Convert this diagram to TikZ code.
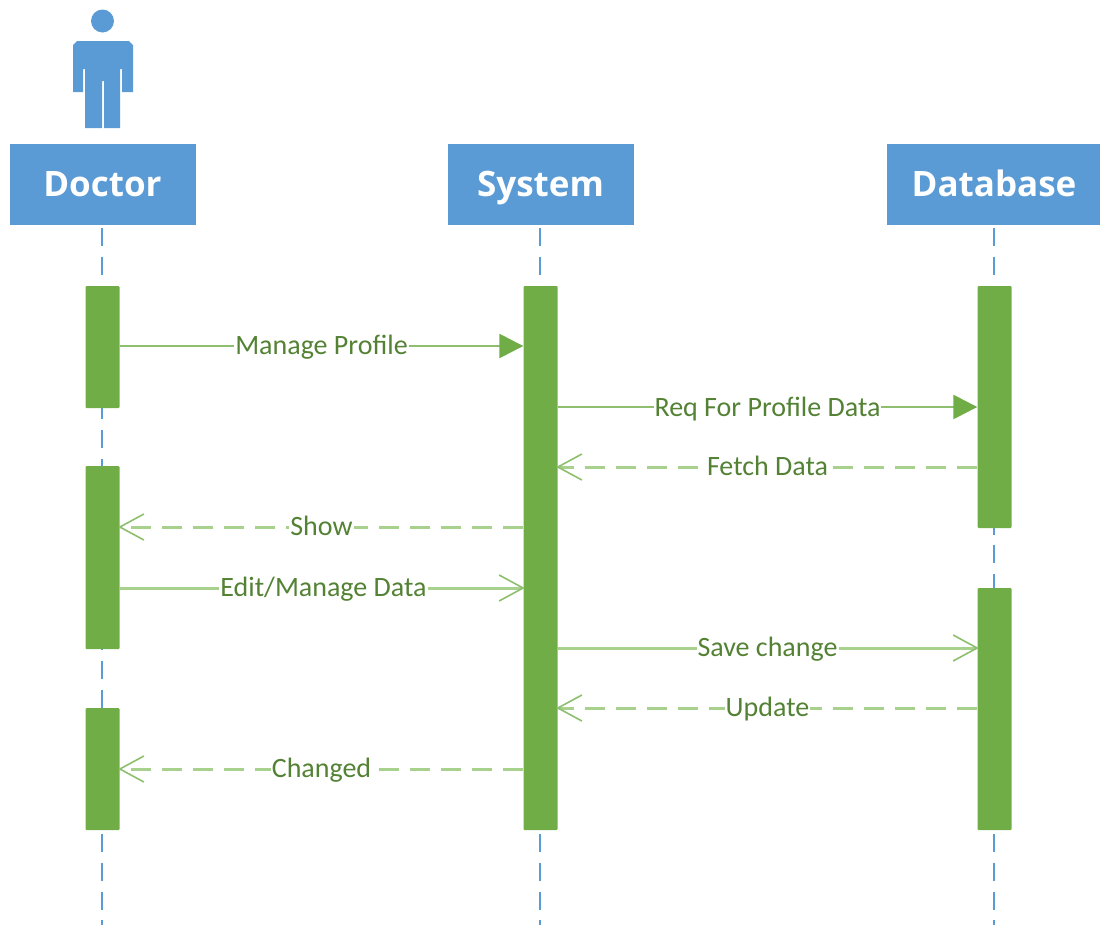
\documentclass[tikz,border=0pt]{standalone}
\usepackage{fontspec}
\setmainfont{Carlito}
\newfontfamily\headfont{Open Sans}
\usetikzlibrary{arrows.meta}
\definecolor{hblue}{HTML}{5B9BD5}
\definecolor{agreen}{HTML}{70AD47}
\definecolor{lgreen}{HTML}{A9D18E}
\definecolor{mgreen}{HTML}{8DBF6E}
\definecolor{tgreen}{HTML}{548235}
\tikzset{
  header/.style={fill=hblue,text=white,minimum width=186pt,minimum height=81pt,inner sep=0pt,text height=25pt,text depth=0pt,font=\headfont\bfseries\fontsize{35}{37}\selectfont},
  activation/.style={fill=agreen,minimum width=34pt,inner sep=0pt,rounded corners=1pt},
  lifeline/.style={draw=hblue,line width=2.4pt,dash pattern=on 18pt off 10.85pt},
  msglabel/.style={fill=white,text=tgreen,inner xsep=1pt,inner ysep=0pt,text height=16pt,text depth=0pt,font=\fontsize{28}{30}\selectfont},
  syncmsg/.style={draw=mgreen,line width=2.6pt,-{Triangle[length=24pt,width=24pt,color=agreen]}},
  openmsg/.style={draw=lgreen,line width=3pt,shorten >=-1.5pt,-{Straight Barb[length=24pt,width=26pt,line width=1.6pt,color=mgreen]}},
  retmsg/.style={draw=lgreen,line width=3pt,shorten >=-1.5pt,dash pattern=on 20pt off 11pt,-{Straight Barb[length=24pt,width=26pt,line width=1.6pt,color=mgreen,sep=0pt]}},
}
\begin{document}
\begin{tikzpicture}[x=1pt,y=-1pt]
\useasboundingbox (0,0) rectangle (1100,924);
% actor
\fill[hblue] (102.5,21) circle (11.5);
\fill[hblue] (77,41) -- (129,41) -- (133,45) -- (133,92) -- (122,92) -- (122,69) -- (120,69)
  -- (120,128) -- (104,128) -- (104,81) -- (102,81) -- (102,128) -- (85,128) -- (85,69)
  -- (83,69) -- (83,92) -- (73,92) -- (73,45) -- cycle;
% headers
\node[header] (doctor) at (102.5,184) {Doctor};
\node[header] (system) at (540.5,184) {System};
\node[header,minimum width=214pt] (database) at (994,184) {Database};
\coordinate (dend) at (102,930);
\coordinate (send) at (540,930);
\coordinate (bend) at (994,930);
\draw[lifeline] (102,228) -- (dend);
\draw[lifeline] (540,228) -- (send);
\draw[lifeline] (994,228) -- (bend);
% activations
\node[activation,minimum height=122pt] (d1) at (102.5,347) {};
\node[activation,minimum height=183pt] (d2) at (102.5,557.5) {};
\node[activation,minimum height=122pt] (d3) at (102.5,769) {};
\node[activation,minimum height=544pt] (s1) at (540.5,558) {};
\node[activation,minimum height=242pt] (b1) at (994.5,407) {};
\node[activation,minimum height=242pt] (b2) at (994.5,709) {};
% messages
\draw[syncmsg] (d1.east |- 0,346) -- node[msglabel] (l1) {Manage Profile} (s1.west |- 0,346);
\draw[syncmsg] (s1.east |- 0,407) -- node[msglabel,yshift=-1pt] (l2) {Req For Profile Data} (b1.west |- 0,407);
\draw[retmsg] (b1.west |- 0,467) -- node[msglabel] (l3) {Fetch Data} (s1.east |- 0,467);
\draw[retmsg] (s1.west |- 0,527) -- node[msglabel] (l4) {Show} (d2.east |- 0,527);
\draw[openmsg] (d2.east |- 0,588) -- node[msglabel,xshift=2pt] (l5) {Edit/Manage Data} (s1.west |- 0,588);
\draw[openmsg] (s1.east |- 0,648) -- node[msglabel] (l6) {Save change} (b2.west |- 0,648);
\draw[retmsg] (b2.west |- 0,708) -- node[msglabel] (l7) {Update} (s1.east |- 0,708);
\draw[retmsg] (s1.west |- 0,769) -- node[msglabel] (l8) {Changed} (d3.east |- 0,769);
\end{tikzpicture}
\end{document}
